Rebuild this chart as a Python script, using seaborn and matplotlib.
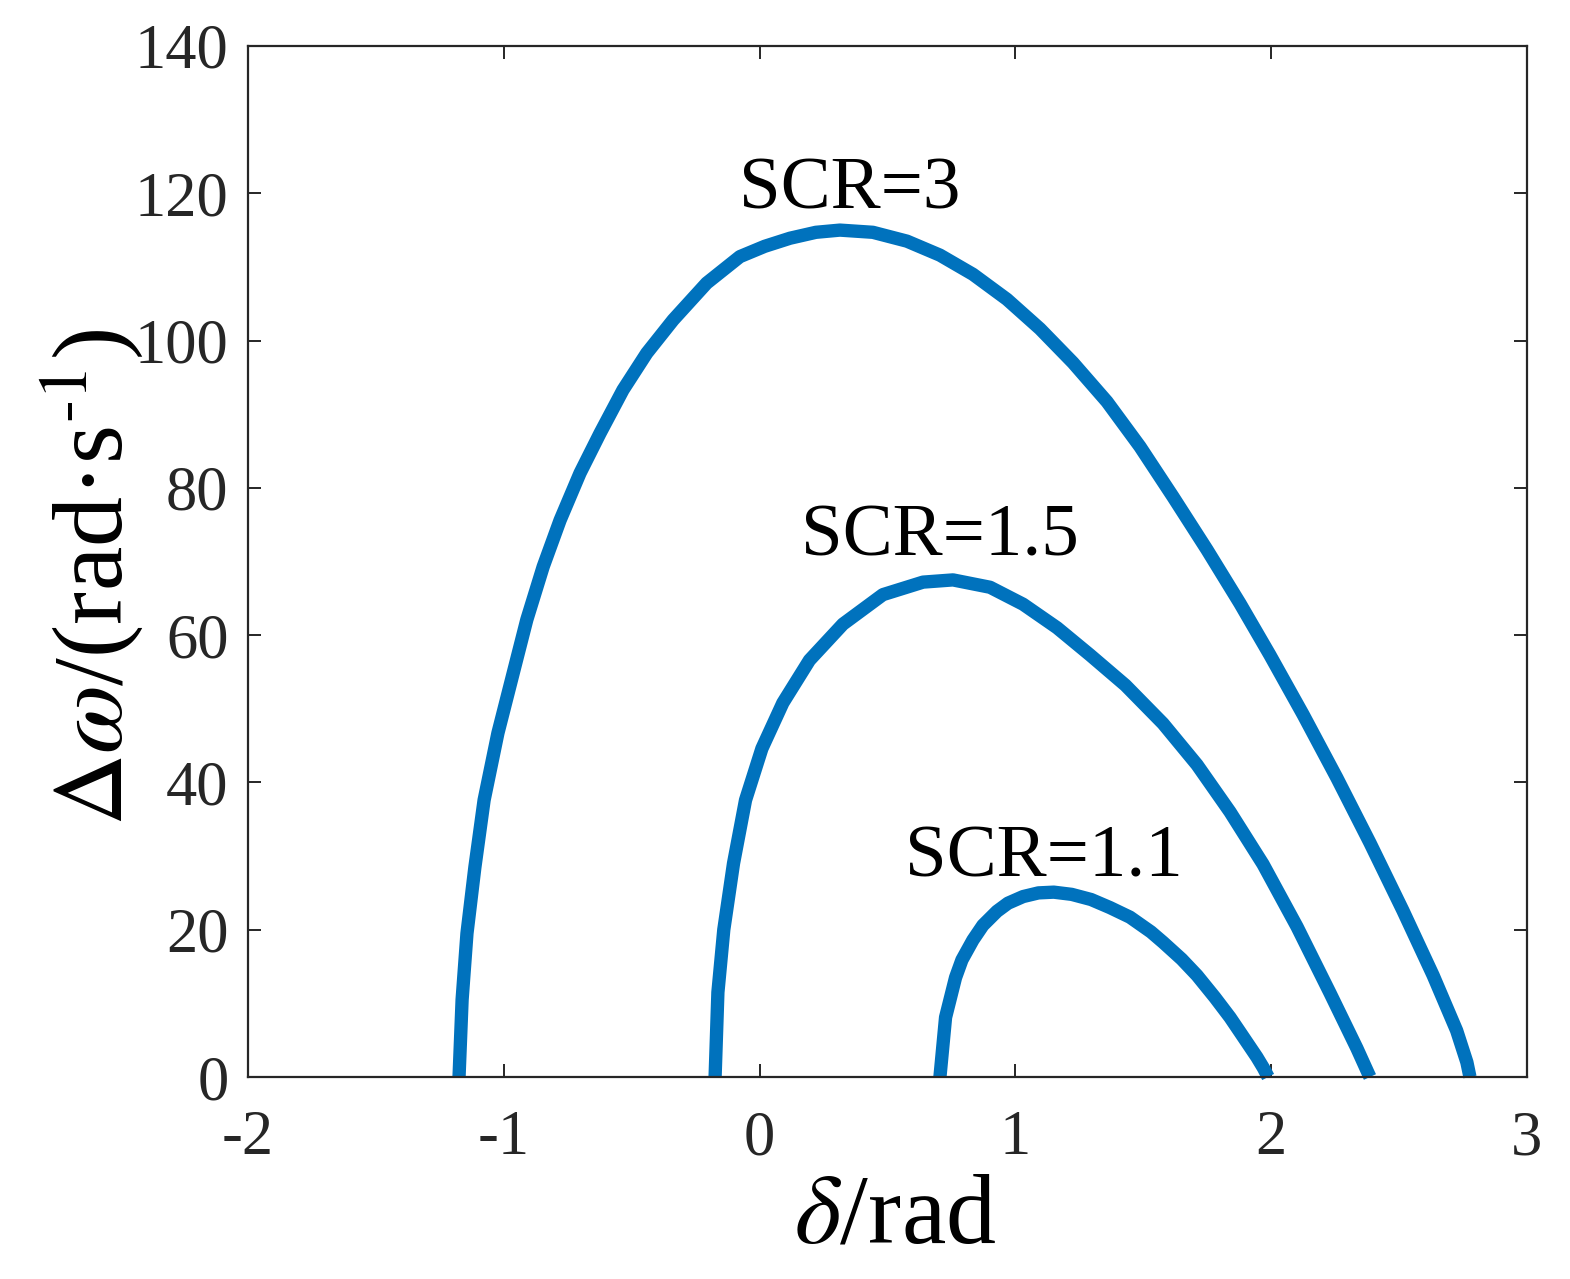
import numpy as np
import pandas as pd
import matplotlib
matplotlib.use("Agg")
import matplotlib.pyplot as plt
import seaborn as sns

# ---- data ----
scr3_delta = [-1.175, -1.163, -1.144, -1.113, -1.077, -1.023, -0.957, -0.910, -0.846, -0.780,
              -0.702, -0.624, -0.534, -0.441, -0.338, -0.207, -0.077, 0.020, 0.119, 0.220,
              0.314, 0.443, 0.576, 0.705, 0.834, 0.967, 1.096, 1.225, 1.358, 1.487,
              1.616, 1.749, 1.878, 1.995, 2.125, 2.257, 2.386, 2.515, 2.633, 2.725,
              2.765, 2.777]
scr3_domega = [0.0, 10.5, 19.5, 28.5, 37.6, 46.7, 55.7, 62.1, 69.3, 75.6,
               82.0, 87.4, 93.3, 98.3, 102.8, 107.8, 111.4, 112.8, 113.9, 114.7,
               115.0, 114.7, 113.5, 111.6, 109.0, 105.6, 101.6, 97.0, 91.7, 85.6,
               78.8, 71.6, 64.3, 57.3, 49.2, 40.6, 31.8, 22.6, 13.8, 6.3,
               2.0, 0.0]

scr15_delta = [-0.174, -0.163, -0.140, -0.102, -0.055, 0.009, 0.091, 0.195, 0.326, 0.482,
               0.639, 0.756, 0.901, 1.030, 1.163, 1.292, 1.430, 1.577, 1.710, 1.839,
               1.968, 2.101, 2.230, 2.335, 2.378, 2.386]
scr15_domega = [0.0, 11.5, 20.0, 29.0, 37.6, 44.6, 50.8, 56.6, 61.5, 65.5,
                67.2, 67.5, 66.5, 64.2, 61.0, 57.3, 53.2, 48.0, 42.4, 36.0,
                28.9, 20.4, 11.4, 3.9, 0.6, 0.0]

scr11_delta = [0.705, 0.727, 0.766, 0.791, 0.834, 0.873, 0.928, 0.971, 1.030, 1.090,
               1.150, 1.220, 1.296, 1.370, 1.448, 1.530, 1.577, 1.650, 1.710, 1.780,
               1.839, 1.878, 1.944, 1.970, 1.988]
scr11_domega = [0.0, 8.1, 13.5, 15.9, 18.6, 20.6, 22.5, 23.6, 24.5, 25.0,
                25.1, 24.8, 24.1, 23.0, 21.7, 19.7, 18.3, 16.0, 13.8, 10.8,
                8.1, 6.1, 2.7, 1.2, 0.0]

curve_names = ["SCR=3", "SCR=1.5", "SCR=1.1"]
label_x = [0.353, 0.705, 1.112]
label_y = [118.0, 70.8, 27.2]

xticks = [-2, -1, 0, 1, 2, 3]
yticks = [0, 20, 40, 60, 80, 100, 120, 140]

# ---- style ----
sns.set_style("ticks")
plt.rcParams["font.family"] = ["Liberation Serif", "DejaVu Serif"]
plt.rcParams["mathtext.fontset"] = "stix"
plt.rcParams["axes.unicode_minus"] = False

df = pd.concat([
    pd.DataFrame({"delta": scr3_delta, "domega": scr3_domega, "curve": curve_names[0]}),
    pd.DataFrame({"delta": scr15_delta, "domega": scr15_domega, "curve": curve_names[1]}),
    pd.DataFrame({"delta": scr11_delta, "domega": scr11_domega, "curve": curve_names[2]}),
], ignore_index=True)

W, H = 1570, 1279
fig = plt.figure(figsize=(W / 100, H / 100), dpi=100)
ax = fig.add_axes([248 / W, 1 - 1077 / H, (1527 - 248) / W, (1077 - 46) / H])

sns.lineplot(data=df, x="delta", y="domega", units="curve", estimator=None, sort=False,
             color="#0072BD", linewidth=9.6, ax=ax, legend=False,
             solid_capstyle="butt", solid_joinstyle="round")
for ln in ax.lines:
    ln.set_clip_on(False)

ax.set_xlim(-2, 3)
ax.set_ylim(0, 140)
ax.set_xticks(xticks)
ax.set_yticks(yticks)
ax.set_xticklabels([str(t) for t in xticks])
ax.set_yticklabels([str(t) for t in yticks])

gray = "#262626"
for sp in ax.spines.values():
    sp.set_visible(True)
    sp.set_color(gray)
    sp.set_linewidth(1.6)
ax.tick_params(axis="both", which="major", direction="in", length=9.5, width=1.4,
               top=True, right=True, labelsize=45, colors=gray)
ax.tick_params(axis="x", pad=24)
ax.tick_params(axis="y", pad=14)

ax.set_xlabel(r"$\delta$/rad", fontsize=72, color="black")
ax.set_ylabel(r"$\Delta\omega$/(rad·s$^{\text{-}1}$)", fontsize=72, color="black")
ax.xaxis.set_label_coords(0.506, -0.094)
ax.yaxis.set_label_coords(-0.080, 0.484)

for name, lx, ly in zip(curve_names, label_x, label_y):
    ax.text(lx, ly, name, fontsize=54, ha="center", va="baseline", color="black")

fig.savefig("out.png", dpi=100, facecolor="white")
